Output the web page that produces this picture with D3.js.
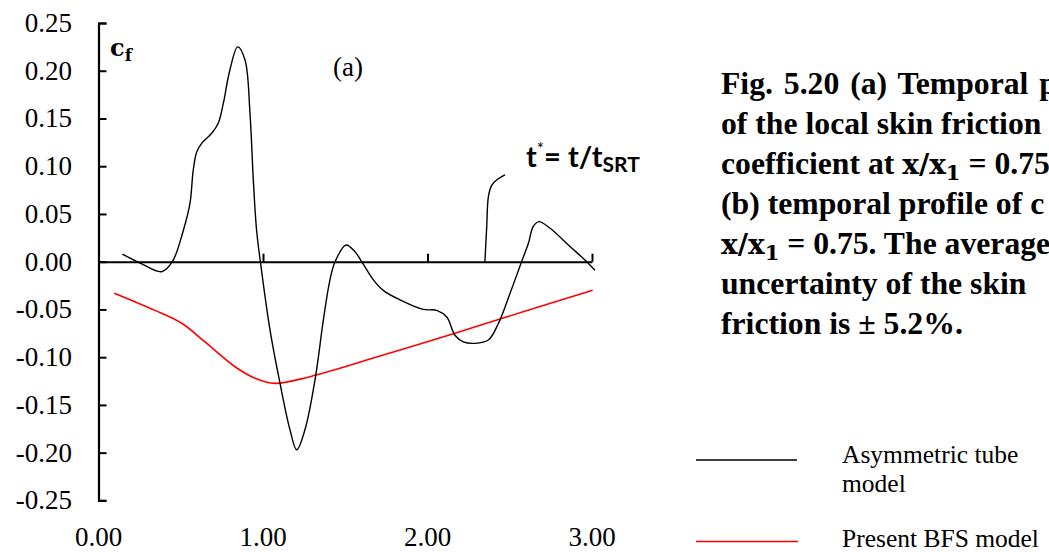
<!DOCTYPE html>
<html>
<head>
<meta charset="utf-8">
<script src="https://cdn.jsdelivr.net/npm/d3@7"></script>
<style>
  html, body { margin: 0; padding: 0; background: #fff; }
  svg { display: block; }
</style>
</head>
<body>
<script>
// Skin friction coefficient c_f against normalised time t* = t / t_SRT
const timeAsym = [0.145, 0.26, 0.384, 0.449, 0.516, 0.556, 0.576, 0.597, 0.627, 0.688, 0.728, 0.759, 0.799, 0.846, 0.891, 0.921, 0.941, 0.961, 0.984, 1.043, 1.103, 1.164, 1.205, 1.255, 1.316, 1.367, 1.407, 1.438, 1.505, 1.559, 1.600, 1.671, 1.731, 1.833, 1.974, 2.056, 2.117, 2.167, 2.218, 2.289, 2.370, 2.430, 2.502, 2.572, 2.613, 2.643, 2.678, 2.745, 2.866, 2.968, 3.018];
const cfAsym   = [0.008, -0.002, -0.0105, 0.000, 0.033, 0.061, 0.096, 0.115, 0.124, 0.1345, 0.145, 0.166, 0.201, 0.225, 0.211, 0.155, 0.086, 0.033, 0.000, -0.072, -0.127, -0.176, -0.197, -0.176, -0.124, -0.061, -0.019, 0.000, 0.0175, 0.0105, 0.000, -0.019, -0.030, -0.040, -0.050, -0.051, -0.058, -0.077, -0.084, -0.0855, -0.082, -0.065, -0.033, 0.000, 0.019, 0.037, 0.042, 0.035, 0.016, 0.000, -0.009];

const timeBFS = [0.096, 0.343, 0.506, 0.647, 0.830, 0.951, 1.073, 1.225, 1.316, 1.498, 1.650, 2.167, 2.441, 3.004];
const cfBFS   = [-0.033, -0.051, -0.0645, -0.084, -0.110, -0.122, -0.1274, -0.123, -0.119, -0.110, -0.102, -0.075, -0.060, -0.030];

// leader line pointing to the time label
const leaderT  = [2.349, 2.360, 2.370, 2.390, 2.420, 2.471];
const leaderCf = [0.000, 0.0367, 0.068, 0.080, 0.0856, 0.091];

const xTickValues = [0, 1, 2, 3];
const xTickLabels = ["0.00", "1.00", "2.00", "3.00"];
const yTickValues = [0.25, 0.20, 0.15, 0.10, 0.05, 0.00, -0.05, -0.10, -0.15, -0.20, -0.25];
const yTickLabels = ["0.25", "0.20", "0.15", "0.10", "0.05", "0.00", "-0.05", "-0.10", "-0.15", "-0.20", "-0.25"];

const seriesNames = ["Asymmetric tube", "model", "Present BFS model"];

const W = 1049, H = 552;
const svg = d3.select("body").append("svg").attr("width", W).attr("height", H)
  .style("background", "#fff");

const x = d3.scaleLinear().domain([0, 3]).range([98.5, 592]);
const y = d3.scaleLinear().domain([-0.25, 0.25]).range([500.4, 23]);

const serif = "'Liberation Serif', 'Times New Roman', serif";
const mathSerif = "'DejaVu Serif', serif";

// y axis: ticks point inward, with outer ticks at both ends
const yAxis = svg.append("g").attr("transform", `translate(${x(0)},0)`)
  .call(d3.axisRight(y).tickValues(yTickValues).tickSize(8).tickFormat(""));
yAxis.select(".domain").attr("stroke", "#000").attr("stroke-width", 2.2);
yAxis.selectAll(".tick line").attr("stroke", "#000").attr("stroke-width", 2);

// x axis along c_f = 0, ticks pointing up
const xAxis = svg.append("g").attr("transform", `translate(0,${y(0)})`)
  .call(d3.axisTop(x).tickValues(xTickValues).tickSize(8).tickSizeOuter(0).tickFormat(""));
xAxis.select(".domain").attr("stroke", "#000").attr("stroke-width", 2);
xAxis.selectAll(".tick line").attr("stroke", "#000").attr("stroke-width", 2);

// tick labels
svg.append("g").selectAll("text").data(yTickValues).join("text")
  .attr("x", 72).attr("y", d => y(d) + 9)
  .attr("text-anchor", "end")
  .attr("font-family", serif).attr("font-size", 27)
  .text((d, i) => yTickLabels[i]);

svg.append("g").selectAll("text").data(xTickValues).join("text")
  .attr("x", d => x(d)).attr("y", 546)
  .attr("text-anchor", "middle")
  .attr("font-family", serif).attr("font-size", 27)
  .text((d, i) => xTickLabels[i]);

// curves
const line = d3.line().x(d => x(d[0])).y(d => y(d[1])).curve(d3.curveCatmullRom.alpha(0.5));

svg.append("path")
  .datum(timeBFS.map((t, i) => [t, cfBFS[i]]))
  .attr("fill", "none").attr("stroke", "#ff0000").attr("stroke-width", 1.6)
  .attr("d", line);

svg.append("path")
  .datum(timeAsym.map((t, i) => [t, cfAsym[i]]))
  .attr("fill", "none").attr("stroke", "#000").attr("stroke-width", 1.4)
  .attr("d", line);

svg.append("path")
  .datum(leaderT.map((t, i) => [t, leaderCf[i]]))
  .attr("fill", "none").attr("stroke", "#000").attr("stroke-width", 1.4)
  .attr("d", line);

// axis title c_f
const cf = svg.append("text").attr("x", 110).attr("y", 56)
  .attr("font-family", mathSerif).attr("font-weight", "bold").attr("font-size", 24);
cf.append("tspan").text("c");
cf.append("tspan").attr("font-size", 17).attr("dy", 5).text("f");

// panel label
svg.append("text").attr("x", 333).attr("y", 76)
  .attr("font-family", serif).attr("font-size", 27).text("(a)");

// time label
const tl = svg.append("text").attr("x", 526).attr("y", 167)
  .attr("font-family", "Lato, 'Open Sans', sans-serif").attr("font-weight", "bold").attr("font-size", 29);
tl.append("tspan").text("t");
tl.append("tspan").attr("font-size", 17).attr("font-weight", "normal").attr("dy", -12).text("*");
tl.append("tspan").attr("dy", 12).text("= t/t");
tl.append("tspan").attr("font-size", 21).attr("dy", 5).text("SRT");

// caption
const cap = svg.append("g").attr("font-family", serif).attr("font-weight", "bold").attr("font-size", 31.7);
const capX = 721;
const capLines = [
  [["Fig. 5.20 (a) Temporal profile"]],
  [["of the local skin friction"]],
  [["coefficient at "], ["x/x", "math"], ["1", "sub"], [" = 0.75"]],
  [["(b) temporal profile of  c"]],
  [["x/x", "math"], ["1", "sub"], [" = 0.75. The average"]],
  [["uncertainty of the skin"]],
  [["friction is \u00b1 5.2%."]]
];
capLines.forEach((parts, i) => {
  const t = cap.append("text").attr("x", capX).attr("y", 94 + i * 40);
  if (i === 0) t.attr("word-spacing", 3);
  let shifted = 0;
  parts.forEach(p => {
    const s = t.append("tspan").text(p[0]);
    if (p[1] === "sub") {
      s.attr("font-family", mathSerif).attr("font-size", 21).attr("dy", 6);
      shifted = 6;
    } else {
      if (shifted) { s.attr("dy", -shifted); shifted = 0; }
      if (p[1] === "math") s.attr("font-family", mathSerif).attr("font-size", 28);
    }
  });
});

// legend
const lg = svg.append("g");
lg.append("line").attr("x1", 696).attr("x2", 797).attr("y1", 460).attr("y2", 460)
  .attr("stroke", "#000").attr("stroke-width", 1.5);
lg.append("line").attr("x1", 696).attr("x2", 798).attr("y1", 541.5).attr("y2", 541.5)
  .attr("stroke", "#ff0000").attr("stroke-width", 1.6);
lg.append("text").attr("x", 842).attr("y", 463).attr("font-family", serif).attr("font-size", 25.5).text(seriesNames[0]);
lg.append("text").attr("x", 842).attr("y", 492).attr("font-family", serif).attr("font-size", 25.5).text(seriesNames[1]);
lg.append("text").attr("x", 842).attr("y", 547).attr("font-family", serif).attr("font-size", 25.5).text(seriesNames[2]);
</script>
</body>
</html>
